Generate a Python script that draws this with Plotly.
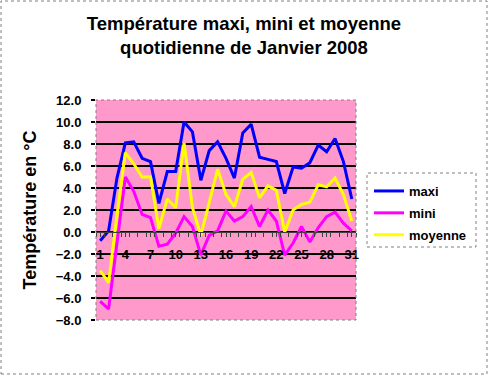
import plotly.graph_objects as go

# ---- data ----
days = [1, 2, 3, 4, 5, 6, 7, 8, 9, 10, 11, 12, 13, 14, 15, 16,
        17, 18, 19, 20, 21, 22, 23, 24, 25, 26, 27, 28, 29, 30, 31]
maxi = [-0.8, 0.1, 4.9, 8.1, 8.2, 6.7, 6.4, 2.6, 5.5, 5.5, 10.0, 9.1, 4.7, 7.4, 8.2, 6.7,
        4.9, 9.0, 9.8, 6.8, 6.6, 6.4, 3.5, 5.9, 5.8, 6.3, 7.9, 7.3, 8.5, 6.4, 3.0]
mini = [-6.3, -7.0, -1.0, 5.0, 3.7, 1.6, 1.3, -1.3, -1.1, -0.1, 1.4, 0.5, -2.1, -0.3, 0.1, 1.9,
        1.0, 1.4, 2.3, 0.5, 2.0, 1.0, -2.1, -1.0, 0.5, -0.9, 0.4, 1.4, 1.8, 0.8, 0.1]
moyenne = [-3.5, -4.6, 1.5, 7.2, 6.2, 5.0, 5.0, 0.3, 3.0, 2.2, 8.1, 2.2, -0.3, 2.6, 5.7, 3.4,
           2.3, 4.8, 5.4, 3.1, 4.2, 3.8, 0.0, 2.0, 2.5, 2.7, 4.3, 4.1, 4.9, 3.4, 1.0]
x_tick_vals = [1, 4, 7, 10, 13, 16, 19, 22, 25, 28, 31]
x_tick_text = ["1", "4", "7", "10", "13", "16", "19", "22", "25", "28", "31"]
y_min, y_max, y_step = -8.0, 12.0, 2.0

series = [("maxi", maxi, "#0000FF"), ("mini", mini, "#FF00FF"), ("moyenne", moyenne, "#FFFF00")]

FONT = "Arial, 'Liberation Sans', sans-serif"
W, H = 488, 375
L, R, T, B = 96, 132, 100, 55
pw, ph = W - L - R, H - T - B

fig = go.Figure()
for name, vals, col in series:
    fig.add_trace(go.Scatter(x=days, y=vals, mode="lines", name=name, legendgroup=name,
                             line=dict(color=col, width=3)))

# x axis crosses the y axis at 0
x_pos = (0 - y_min) / (y_max - y_min)

fig.update_layout(
    width=W, height=H, autosize=False,
    margin=dict(l=L, r=R, t=T, b=B, pad=0),
    paper_bgcolor="white", plot_bgcolor="#FF99CC",
    font=dict(family=FONT, color="black"),
    title=dict(text="Température maxi, mini et moyenne<br>quotidienne de Janvier 2008",
               x=0.5, xref="container", xanchor="center",
               y=1 - 30 / H, yref="container", yanchor="top",
               font=dict(family=FONT, size=18.5, color="black", weight="bold")),
    showlegend=True,
    legend=dict(x=(369 - L) / pw, xanchor="left",
                y=(H - B - 176) / ph, yanchor="top",
                bgcolor="rgba(0,0,0,0)", borderwidth=0,
                font=dict(family=FONT, size=13, color="black", weight="bold"),
                traceorder="grouped", tracegroupgap=2, itemwidth=30),
    xaxis=dict(range=[0.5, 31.5], anchor="free", position=x_pos,
               tickmode="array", tickvals=x_tick_vals, ticktext=x_tick_text,
               showgrid=False, zeroline=False,
               showline=True, linecolor="#404040", linewidth=1,
               ticks="outside", ticklen=4, tickcolor="#404040",
               minor=dict(tickmode="linear", tick0=0.5, dtick=1, ticks="outside",
                          ticklen=4, tickcolor="#404040"),
               tickfont=dict(family=FONT, size=13, color="black", weight="bold"),
               ticklabelstandoff=6, fixedrange=True),
    yaxis=dict(range=[y_min, y_max], dtick=y_step, tick0=0, tickformat=".1f",
               showgrid=True, gridcolor="black", gridwidth=2,
               zeroline=False, showline=False,
               ticks="outside", ticklen=4, tickcolor="black", tickwidth=2,
               tickfont=dict(family=FONT, size=13, color="black", weight="bold"),
               ticklabelstandoff=7, fixedrange=True,
               title=dict(text="Température en °C", standoff=14,
                          font=dict(family=FONT, size=18, color="black", weight="bold"))),
)

# plot-area border, legend box and chart border (dotted grey)
fig.add_shape(type="rect", xref="x domain", yref="y domain", x0=0, x1=1, y0=0, y1=1,
              line=dict(color="#808080", width=1, dash="dot"), layer="above")
fig.add_shape(type="rect", xref="paper", yref="paper",
              x0=(367 - L) / pw, x1=(476 - L) / pw,
              y0=(H - B - 247) / ph, y1=(H - B - 173) / ph,
              line=dict(color="#808080", width=1, dash="dot"))
fig.add_shape(type="rect", xref="paper", yref="paper",
              x0=(1 - L) / pw, x1=(W - 1 - L) / pw,
              y0=(H - B - (H - 1)) / ph, y1=(H - B - 1) / ph,
              line=dict(color="#808080", width=1, dash="dot"))

fig.write_html("out.html", config={"displayModeBar": False},
               post_script="document.body.style.margin='0';")
